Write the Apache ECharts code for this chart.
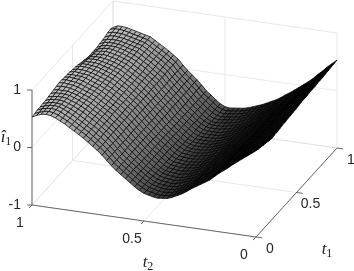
<!DOCTYPE html>
<html><head><meta charset="utf-8">
<style>html,body{margin:0;padding:0;background:#fff}#c{width:354px;height:271px}</style>
<script src="https://cdn.jsdelivr.net/npm/echarts@6/dist/echarts.min.js"></script>
</head><body><div id="c"></div>
<script>
const t1Ticks=[0,0.5,1];
const t2Ticks=[0,0.5,1];
const zTicks=[-1,0,1];
const t1TickLabels=['0','0.5','1'];
const t2TickLabels=['0','0.5','1'];
const zTickLabels=['-1','0','1'];
// surface height x100: rows t1 = 0..1 (31 rows), columns t2 = 0..1 (49 columns)
const heights=[
[50,44,38,32,26,20,13,7,1,-6,-13,-18,-23,-28,-33,-39,-44,-48,-52,-55,-56,-57,-56,-54,-52,-48,-43,-37,-31,-25,-19,-12,-4,4,11,17,23,29,34,39,44,49,53,57,60,61,60,57,53],
[48,43,37,32,26,20,13,7,1,-6,-13,-18,-23,-28,-33,-39,-44,-48,-52,-55,-56,-57,-56,-54,-52,-48,-43,-37,-31,-25,-19,-12,-4,4,11,17,23,29,34,39,44,49,53,57,60,61,60,57,54],
[47,41,36,31,26,20,13,7,1,-6,-13,-18,-23,-28,-33,-39,-44,-48,-52,-55,-56,-57,-56,-54,-52,-48,-43,-37,-31,-25,-19,-12,-4,4,11,17,23,29,34,39,44,49,53,57,60,61,60,58,55],
[45,40,35,30,25,19,12,6,1,-6,-13,-18,-23,-28,-33,-39,-44,-48,-52,-55,-56,-57,-56,-54,-52,-48,-43,-37,-31,-25,-19,-12,-4,4,11,17,23,29,34,39,44,49,53,57,60,61,60,58,55],
[44,39,34,29,25,19,12,6,0,-6,-13,-18,-23,-28,-33,-39,-44,-48,-52,-55,-56,-57,-56,-55,-53,-48,-43,-37,-31,-25,-19,-12,-4,4,12,18,24,29,34,39,44,49,53,56,59,60,60,58,56],
[42,38,33,29,24,18,12,6,0,-6,-13,-18,-24,-29,-33,-39,-44,-48,-51,-54,-56,-57,-56,-55,-53,-49,-44,-38,-32,-25,-19,-12,-4,4,12,18,24,30,35,40,45,49,53,56,59,60,60,59,56],
[41,37,32,28,24,18,12,6,0,-7,-13,-18,-24,-29,-33,-39,-44,-48,-51,-54,-56,-57,-56,-55,-53,-49,-44,-38,-32,-25,-18,-11,-4,4,12,18,24,30,35,40,45,49,53,56,59,60,60,59,57],
[42,37,33,28,24,18,12,6,0,-7,-13,-18,-24,-29,-33,-39,-44,-48,-51,-54,-56,-57,-56,-55,-53,-49,-44,-38,-32,-25,-18,-11,-4,4,12,18,24,30,35,40,45,49,53,56,59,60,60,60,58],
[42,38,33,29,24,18,12,6,0,-7,-13,-18,-24,-29,-34,-39,-44,-47,-51,-54,-55,-57,-56,-55,-54,-50,-44,-38,-32,-25,-18,-11,-4,4,12,18,24,30,35,40,45,49,52,56,58,60,60,60,59],
[43,38,34,29,24,18,11,5,0,-7,-14,-19,-24,-29,-34,-39,-44,-47,-51,-54,-55,-56,-56,-55,-54,-50,-44,-38,-32,-25,-18,-11,-3,5,12,18,25,30,35,40,45,49,52,55,58,60,61,61,60],
[44,39,34,29,24,18,11,5,-1,-7,-14,-19,-24,-29,-34,-39,-44,-47,-51,-54,-55,-56,-56,-55,-54,-50,-44,-38,-32,-25,-18,-11,-3,5,12,18,25,30,35,40,45,49,52,55,58,60,61,62,61],
[44,39,34,29,24,18,11,5,-1,-7,-14,-19,-24,-29,-34,-39,-44,-47,-51,-54,-55,-56,-56,-55,-54,-50,-44,-38,-32,-25,-18,-11,-3,5,12,18,25,30,35,40,45,49,52,55,58,60,61,62,61],
[45,40,35,30,24,18,11,5,-1,-7,-14,-19,-24,-29,-34,-39,-44,-47,-51,-54,-55,-56,-56,-55,-54,-50,-44,-38,-32,-25,-18,-11,-3,5,13,19,25,30,35,40,45,49,52,55,58,60,61,62,60],
[45,40,35,30,24,18,11,5,-1,-7,-14,-19,-24,-29,-34,-39,-44,-47,-51,-54,-55,-56,-56,-55,-54,-50,-44,-38,-32,-26,-18,-11,-3,5,13,19,25,30,36,41,45,49,52,55,58,60,60,61,60],
[46,40,35,30,24,18,11,5,-1,-8,-14,-19,-24,-29,-34,-39,-44,-47,-51,-53,-55,-56,-56,-55,-54,-50,-45,-38,-32,-26,-18,-11,-3,5,13,19,25,31,36,41,45,49,52,55,58,59,60,61,59],
[46,41,35,30,24,18,11,5,-1,-8,-14,-19,-24,-30,-34,-39,-43,-47,-50,-53,-55,-56,-56,-55,-54,-50,-45,-38,-32,-26,-18,-11,-3,5,13,19,25,31,36,41,46,49,52,55,57,59,60,60,58],
[47,41,36,30,25,18,11,5,-1,-8,-14,-19,-25,-30,-34,-39,-43,-47,-50,-53,-55,-56,-56,-56,-54,-50,-45,-39,-33,-26,-18,-11,-3,5,13,19,25,31,36,41,46,49,52,55,57,59,60,60,57],
[48,42,36,31,25,18,11,5,-1,-8,-14,-19,-25,-30,-34,-39,-43,-47,-50,-53,-55,-56,-56,-56,-54,-51,-45,-39,-33,-26,-18,-10,-3,5,13,19,25,31,36,41,46,49,52,55,57,58,59,59,56],
[48,42,37,31,25,18,11,5,-1,-8,-14,-19,-25,-30,-34,-39,-43,-47,-50,-53,-55,-56,-56,-56,-55,-51,-45,-39,-33,-26,-18,-10,-3,5,13,19,25,31,36,41,46,49,52,54,57,58,58,58,54],
[48,42,37,31,25,18,11,5,-1,-8,-14,-19,-25,-30,-34,-39,-43,-47,-50,-53,-55,-56,-56,-56,-55,-51,-45,-39,-33,-26,-18,-10,-3,5,13,19,26,31,36,41,46,49,52,54,56,58,58,57,53],
[49,43,37,31,25,18,11,4,-1,-8,-14,-19,-25,-30,-34,-39,-43,-47,-50,-53,-55,-56,-56,-56,-55,-51,-45,-39,-33,-26,-17,-10,-3,5,14,20,26,31,36,41,46,49,52,54,56,57,57,56,51],
[49,43,37,31,25,17,10,4,-2,-8,-14,-19,-25,-30,-34,-39,-43,-47,-50,-53,-55,-56,-56,-56,-55,-51,-45,-39,-33,-26,-17,-10,-3,5,14,20,26,31,36,41,46,49,52,54,56,57,56,55,50],
[49,43,37,31,25,17,10,4,-2,-8,-14,-19,-25,-30,-35,-39,-43,-47,-50,-53,-55,-56,-56,-56,-55,-51,-45,-39,-33,-26,-17,-10,-3,5,14,20,26,31,36,41,46,49,52,54,56,57,56,55,50],
[50,44,38,31,25,17,10,4,-2,-8,-15,-20,-25,-30,-35,-39,-43,-47,-50,-53,-54,-56,-56,-56,-55,-51,-46,-39,-33,-26,-17,-10,-2,5,14,20,26,32,37,42,46,49,52,54,56,57,56,54,50],
[50,44,38,31,24,17,10,4,-2,-9,-15,-20,-25,-30,-35,-39,-43,-47,-50,-52,-54,-56,-56,-56,-55,-51,-46,-39,-33,-26,-17,-10,-2,5,14,20,26,32,37,42,46,49,52,54,56,56,56,54,50],
[50,44,38,31,24,17,10,4,-2,-9,-15,-20,-25,-30,-35,-39,-43,-46,-50,-52,-54,-55,-56,-57,-56,-52,-46,-39,-33,-25,-17,-10,-2,6,15,20,26,32,37,42,47,49,51,54,55,56,56,55,51],
[51,44,38,31,24,16,9,4,-2,-9,-15,-20,-26,-31,-35,-39,-43,-46,-49,-52,-54,-55,-56,-57,-56,-52,-46,-39,-33,-25,-17,-9,-2,6,15,21,27,32,37,42,47,49,51,53,55,56,56,55,52],
[51,45,38,31,24,16,9,3,-3,-9,-15,-20,-26,-31,-35,-39,-43,-46,-49,-52,-54,-55,-56,-57,-56,-52,-46,-39,-33,-25,-17,-9,-2,6,15,21,27,32,37,42,47,49,51,53,55,56,57,56,53],
[52,45,39,31,24,16,9,3,-3,-9,-15,-20,-26,-31,-35,-39,-43,-46,-49,-52,-54,-55,-56,-57,-56,-52,-46,-39,-33,-24,-16,-9,-2,6,15,21,27,32,37,42,47,49,51,53,55,57,57,57,55],
[52,46,39,31,24,16,9,3,-3,-9,-15,-20,-26,-31,-35,-39,-43,-46,-49,-52,-54,-55,-56,-57,-56,-52,-46,-39,-33,-24,-16,-9,-2,6,15,21,27,32,37,42,47,49,51,53,55,57,58,58,56],
[53,46,39,31,24,16,9,3,-3,-9,-15,-20,-26,-31,-35,-39,-43,-46,-49,-52,-54,-55,-56,-57,-56,-52,-46,-39,-33,-24,-16,-9,-2,6,15,21,27,32,37,42,47,49,51,53,55,57,58,58,54]
];
// world-to-screen projection of the 3D box
const origin={x:256,y:237};
const t2Vec={x:-224,y:-32};
const t1Vec={x:81,y:-89};
const zUnit=57.5;
const floorZ=-1;
const faceStops=[[0,0.03],[0.15,0.05],[0.3,0.11],[0.45,0.24],[0.6,0.44],[0.8,0.63],[1,0.75]];
function P(t1,t2,z){return [origin.x+t2*t2Vec.x+t1*t1Vec.x, origin.y+t2*t2Vec.y+t1*t1Vec.y-(z-floorZ)*zUnit];}
function faceGray(t){
  for(let i=1;i<faceStops.length;i++){ if(t<=faceStops[i][0]){const a=faceStops[i-1],b=faceStops[i];const g=a[1]+(b[1]-a[1])*(t-a[0])/(b[0]-a[0]);const v=Math.round(g*255);return 'rgb('+v+','+v+','+v+')';}}
  return '#ccc';
}
const nR=heights.length, nK=heights[0].length;
const cells=[];
for(let r=nR-2;r>=0;r--)for(let k=nK-2;k>=0;k--)cells.push([r,k]);

// light box lines: [t1a,t2a,za,t1b,t2b,zb]
const gridSegs=[];
const zMin=zTicks[0], zMax=zTicks[2];
[0,0.5,1].forEach(function(t){gridSegs.push([t,1,zMin,t,1,zMax]);gridSegs.push([1,t,zMin,1,t,zMax]);
  gridSegs.push([t,0,zMin,t,1,zMin]);gridSegs.push([0,t,zMin,1,t,zMin]);});
zTicks.forEach(function(z){gridSegs.push([0,1,z,1,1,z]);gridSegs.push([1,1,z,1,0,z]);});
const axisSegs=[[0,1,zMin,0,1,zMax],[0,1,zMin,0,0,zMin],[0,0,zMin,1,0,zMin]];
function line(api,s,color,w){const a=P(s[0],s[1],s[2]),b=P(s[3],s[4],s[5]);const p=api.coord(a),q=api.coord(b);
  return {type:'line',shape:{x1:p[0],y1:p[1],x2:q[0],y2:q[1]},style:{stroke:color,lineWidth:w}};}
const tickSegs=[];
zTicks.forEach(function(z){tickSegs.push({kind:'z',z:z});});
t2Ticks.forEach(function(t){tickSegs.push({kind:'t2',t:t});});
t1Ticks.forEach(function(t){tickSegs.push({kind:'t1',t:t});});
const AX='#444';
const labelFont='"Liberation Sans",Arial,sans-serif';
const labels=[];
zTicks.forEach(function(z,i){var p=P(0,1,z);labels.push({x:p[0]-11,y:p[1],text:zTickLabels[i],align:'right'});});
t2Ticks.forEach(function(t,i){var p=P(0,t,zMin);labels.push({x:p[0]-12,y:p[1]+18,text:t2TickLabels[i],align:'center'});});
t1Ticks.forEach(function(t,i){var p=P(t,0,zMin);labels.push({x:p[0]+14,y:p[1]+12,text:t1TickLabels[i],align:'center'});});
const names=[
 {x:148,y:263,text:'{v|t}{s|2}'},
 {x:327,y:250,text:'{v|t}{s|1}'},
 {x:6,y:138,text:'{v|î}{s|1}'}
];
const rich={v:{fontFamily:'"Liberation Serif",serif',fontStyle:'italic',fontSize:17,fill:'#222'},s:{fontFamily:'"Liberation Serif",serif',fontSize:12,fill:'#222',padding:[7,0,0,0]}};
const chart=echarts.init(document.getElementById('c'),null,{renderer:'canvas'});
chart.setOption({
 animation:false,
 grid:{left:0,right:0,top:0,bottom:0},
 xAxis:{type:'value',min:0,max:354,show:false},
 yAxis:{type:'value',min:0,max:271,inverse:true,show:false},
 series:[
  {type:'custom',coordinateSystem:'cartesian2d',silent:true,data:gridSegs,encode:{x:0,y:1},clip:false,z:1,
   renderItem:function(p,api){return line(api,gridSegs[p.dataIndex],'#e2e2e2',0.8);}},
  {type:'custom',coordinateSystem:'cartesian2d',silent:true,data:cells,encode:{x:0,y:1},clip:false,z:2,progressive:0,
   renderItem:function(p,api){
     const c=cells[p.dataIndex],r=c[0],k=c[1];
     const pt=function(a,b){return api.coord(P(a/(nR-1),b/(nK-1),heights[a][b]/100));};
     return {type:'polygon',shape:{points:[pt(r,k),pt(r+1,k),pt(r+1,k+1),pt(r,k+1)]},
       style:{fill:faceGray((k+0.5)/(nK-1)),stroke:'#000',lineWidth:0.7}};
   }},
  {type:'custom',coordinateSystem:'cartesian2d',silent:true,data:axisSegs,encode:{x:0,y:1},clip:false,z:3,
   renderItem:function(p,api){return line(api,axisSegs[p.dataIndex],AX,0.8);}},
  {type:'custom',coordinateSystem:'cartesian2d',silent:true,data:tickSegs.map(function(d,i){return [i,0];}),encode:{x:0,y:1},clip:false,z:3,
   renderItem:function(p,api){
     const d=tickSegs[p.dataIndex];let a,b;
     if(d.kind==='z'){a=P(0,1,d.z);b=[a[0]-5,a[1]];}
     else if(d.kind==='t2'){a=P(0,d.t,zMin);b=[a[0]-t1Vec.x*0.035,a[1]-t1Vec.y*0.035];}
     else {a=P(d.t,0,zMin);b=[a[0]-t2Vec.x*0.028,a[1]-t2Vec.y*0.028];}
     const s=api.coord(a),e=api.coord(b);
     return {type:'line',shape:{x1:s[0],y1:s[1],x2:e[0],y2:e[1]},style:{stroke:AX,lineWidth:0.8}};
   }},
  {type:'custom',coordinateSystem:'cartesian2d',silent:true,data:labels.map(function(l){return [l.x,l.y];}),encode:{x:0,y:1},clip:false,z:4,
   renderItem:function(p,api){const l=labels[p.dataIndex];const c=api.coord([l.x,l.y]);
     return {type:'text',x:c[0],y:c[1],style:{text:l.text,fontFamily:labelFont,fontSize:14,fill:'#262626',align:l.align,verticalAlign:'middle'}};}},
  {type:'custom',coordinateSystem:'cartesian2d',silent:true,data:names.map(function(l){return [l.x,l.y];}),encode:{x:0,y:1},clip:false,z:4,
   renderItem:function(p,api){const l=names[p.dataIndex];const c=api.coord([l.x,l.y]);
     return {type:'text',x:c[0],y:c[1],style:{text:l.text,rich:rich,align:'center',verticalAlign:'middle'}};}}
 ]
});
</script></body></html>
